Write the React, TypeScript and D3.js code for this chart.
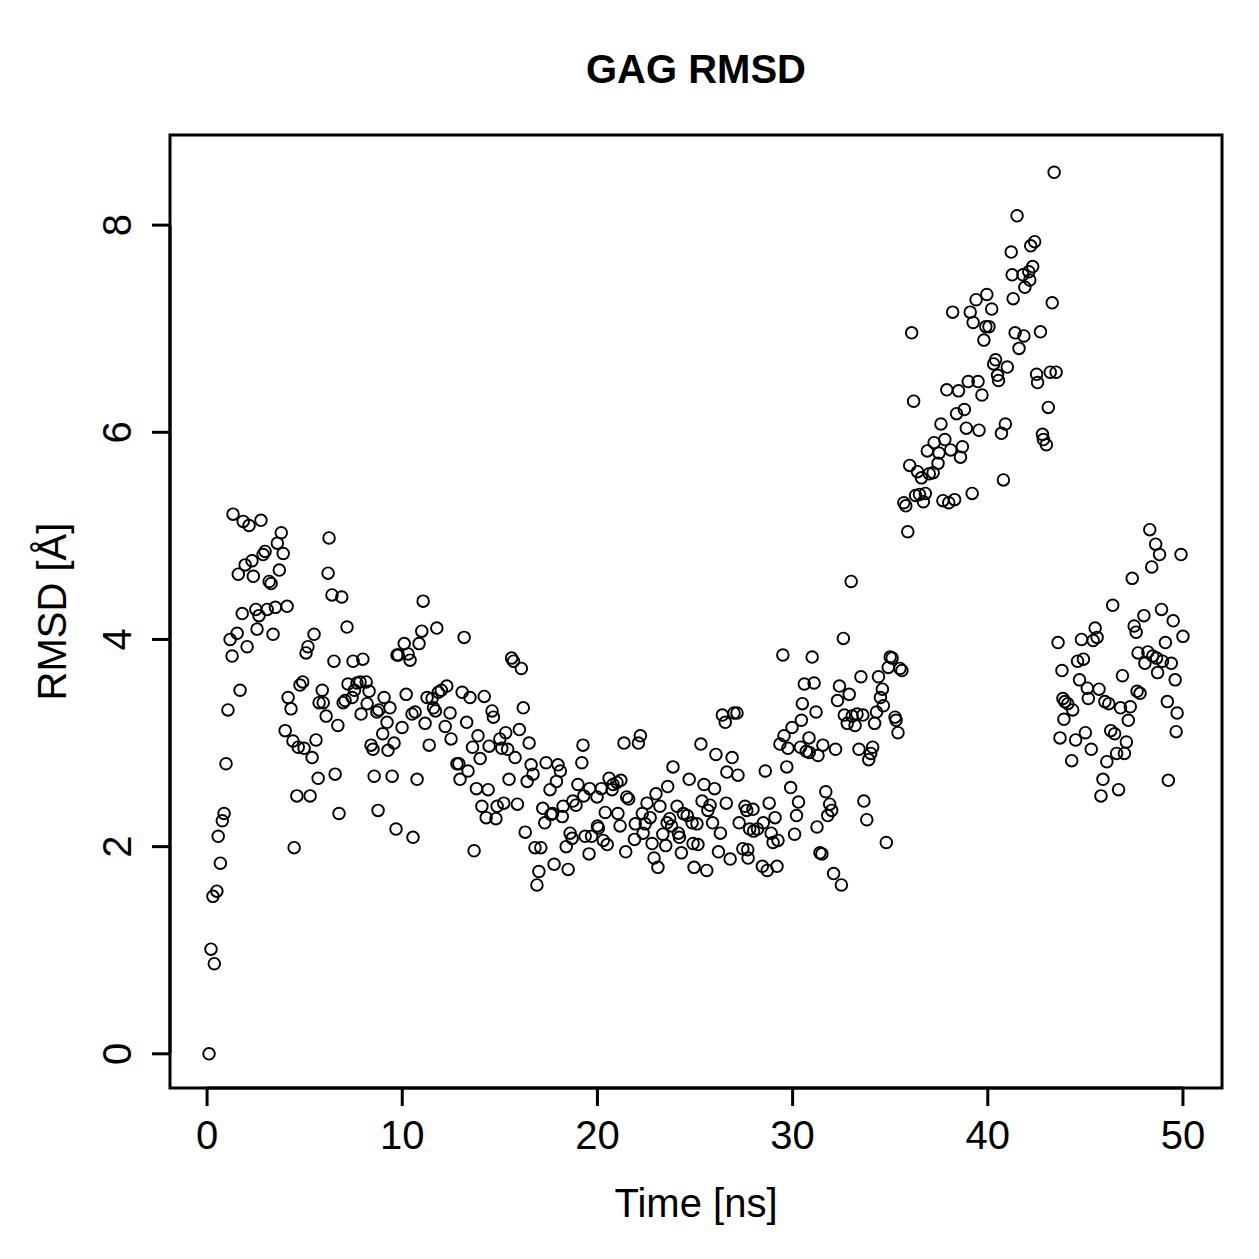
import * as d3 from 'd3'

// GAG RMSD trajectory
const timeNs: number[] = [
  0.1, 0.2, 0.3, 0.37, 0.5, 0.57, 0.68, 0.78, 0.87, 0.97, 1.07, 1.18, 1.28, 1.33, 1.54, 1.6, 1.69, 1.8, 1.85, 1.95,
  2.05, 2.15, 2.3, 2.37, 2.5, 2.56, 2.66, 2.76, 2.87, 2.97, 3.08, 3.18, 3.28, 3.38, 3.5, 3.6, 3.7, 3.8, 3.9, 4.1,
  4.0, 4.15, 4.3, 4.4, 4.46, 4.6, 4.67, 4.76, 4.9, 4.97, 5.07, 5.17, 5.28, 5.38, 5.48, 5.58, 5.69, 5.74, 5.9, 5.95,
  6.1, 6.2, 6.25, 6.4, 6.5, 6.56, 6.7, 6.76, 6.9, 6.97, 7.07, 7.17, 7.22, 7.43, 7.48, 7.55, 7.68, 7.84, 7.89, 7.98,
  8.15, 8.2, 8.3, 8.4, 8.5, 8.56, 8.7, 8.76, 8.8, 9.0, 9.07, 9.22, 9.27, 9.37, 9.48, 9.58, 9.68, 9.73, 9.8, 9.99,
  10.1, 10.2, 10.3, 10.4, 10.5, 10.55, 10.66, 10.76, 10.86, 11.0, 11.07,
  11.17, 11.27, 11.38, 11.53, 11.6, 11.7, 11.77, 11.85, 12.0, 12.2, 12.28, 12.45, 12.5, 12.8, 12.9, 12.96, 13.07, 13.17, 13.3, 13.37,
  13.47, 13.6, 13.68, 13.8, 13.88, 13.99, 14.08, 14.2, 14.3, 14.4, 14.45, 14.6, 14.67, 14.8, 14.86, 15.0, 15.1, 15.2, 15.3, 15.4,
  15.47, 15.6, 15.7, 15.78, 15.9, 16.0, 16.1, 16.2, 16.3, 16.4, 16.5, 16.6, 16.7, 16.8, 16.9, 17.0, 17.1, 17.2, 17.3, 17.37,
  17.57, 17.62, 17.7, 17.78, 17.9, 17.98, 18.1, 18.2, 18.24, 18.4, 18.5, 18.6, 18.7, 18.74, 18.9, 19.0, 19.2, 19.26, 19.3, 19.37,
  19.57, 19.6, 19.7, 19.98, 20.0, 20.05, 20.2, 20.3, 20.4, 20.5, 20.6, 20.75, 20.8, 21.0, 21.05, 21.16,
  21.2, 21.36, 21.45, 21.5, 21.6, 21.9, 21.94, 22.1, 22.2, 22.3, 22.34, 22.45, 22.54, 22.7, 22.8, 22.9, 23.0, 23.1, 23.2, 23.35,
  23.5, 23.57, 23.6, 23.7, 23.8, 23.87, 24.08, 24.15, 24.2, 24.3, 24.4, 24.6, 24.7, 24.85, 24.9, 24.95, 25.1, 25.15, 25.3, 25.36,
  25.46, 25.6, 25.66, 25.77, 25.9, 26.0, 26.07, 26.2, 26.3, 26.4, 26.55, 26.6, 26.63, 26.8, 26.9, 27.0, 27.15, 27.2, 27.26, 27.45,
  27.56, 27.65, 27.7, 27.72, 27.8, 27.97, 28.0, 28.2, 28.45, 28.5, 28.6, 28.7, 28.8, 28.9, 29.0, 29.1, 29.2, 29.25, 29.35, 29.5,
  29.56, 29.7, 29.76, 29.9, 29.97, 30.1, 30.2, 30.3, 30.4, 30.45, 30.5, 30.6, 30.7, 30.84, 30.85, 31.0, 31.1, 31.2, 31.25, 31.3,
  31.4, 31.5, 31.55, 31.7, 31.8, 31.9, 32.0, 32.1, 32.2, 32.3, 32.4, 32.5, 32.6, 32.65, 32.8, 32.9, 33.0, 33.05, 33.2, 33.3,
  33.4, 33.5, 33.6, 33.65, 33.8, 33.9, 34.0, 34.1, 34.2, 34.3, 34.4, 34.5, 34.6, 34.65, 34.8, 34.9, 35.0, 35.1, 35.25, 35.3,
  35.4, 35.5, 35.6,
  35.7, 35.8, 35.9, 36.0, 36.1, 36.2, 36.3, 36.4, 36.5, 36.6, 36.7, 36.8, 36.9, 37.0, 37.2, 37.25, 37.45, 37.5, 37.6, 37.7,
  37.8, 37.9, 38.0, 38.1, 38.2, 38.3, 38.4, 38.5, 38.6, 38.7, 38.8, 38.9, 39.0, 39.1, 39.2, 39.25, 39.4, 39.5, 39.55, 39.7,
  39.8, 39.9, 39.95, 40.06, 40.2, 40.3, 40.4, 40.5, 40.55, 40.7, 40.8, 40.9, 41.0, 41.2, 41.25, 41.3, 41.4, 41.5, 41.6, 41.8,
  41.85, 41.9, 42.1, 42.15, 42.2, 42.3, 42.4, 42.5, 42.55, 42.7, 42.8, 42.85, 43.0, 43.1, 43.2, 43.3, 43.4, 43.5,
  43.6, 43.7, 43.8, 43.85, 43.9, 43.95, 44.1, 44.3, 44.35, 44.5, 44.6, 44.7, 44.8, 44.9, 45.0, 45.1, 45.15, 45.3, 45.4, 45.5,
  45.6, 45.7, 45.8, 45.9, 46.0, 46.1, 46.2, 46.3, 46.4, 46.5, 46.6, 46.7, 46.8, 46.9, 47.0, 47.1, 47.2, 47.3, 47.4, 47.5,
  47.6, 47.65, 47.7, 47.8, 48.0, 48.05, 48.2, 48.3, 48.4, 48.45, 48.6, 48.65, 48.7, 48.8, 48.9, 48.95, 49.1, 49.2, 49.25, 49.4,
  49.5, 49.6, 49.65, 49.7, 49.9, 50.0,
]

const rmsd: number[] = [
  0, 1.01, 1.52, 0.87, 1.57, 2.1, 1.84, 2.25, 2.32, 2.8, 3.32, 4.0, 3.84, 5.21, 4.06, 4.63, 3.51, 4.25, 5.14, 4.72,
  3.93, 5.1, 4.76, 4.61, 4.29, 4.1, 4.23, 5.15, 4.82, 4.85, 4.29, 4.56, 4.54, 4.05, 4.31, 4.93, 4.67, 5.03, 4.83, 4.32,
  3.12, 3.44, 3.33, 3.02, 1.99, 2.49, 2.96, 3.56, 3.59, 2.95, 3.87, 3.93, 2.49, 2.86, 4.05, 3.03, 2.66, 3.39, 3.51, 3.39,
  3.26, 4.64, 4.98, 4.43, 3.79, 2.7, 3.17, 2.32, 4.41, 3.39, 3.41, 4.12, 3.57, 3.44, 3.79, 3.51, 3.58, 3.59, 3.28, 3.81,
  3.59, 3.38, 3.5, 2.98, 2.94, 2.68, 3.3, 2.35, 3.32, 3.09, 3.44, 3.2, 2.93, 3.34, 2.68, 3.0, 2.17, 3.85, 3.85, 3.15,
  3.96, 3.47, 3.86, 3.8, 3.28, 2.09, 3.3, 2.65, 3.96, 4.08, 4.37,
  3.19, 3.44, 2.98, 3.43, 3.34, 3.31, 4.11, 3.49, 3.51, 3.16, 3.55, 3.29, 3.04, 2.8, 2.8, 2.65, 3.49, 4.02, 3.2, 2.73,
  3.44, 2.96, 1.96, 2.56, 3.07, 2.85, 2.39, 3.45, 2.28, 2.55, 2.97, 3.31, 3.25, 2.27, 2.39, 3.04, 2.95, 2.42, 3.1, 2.94,
  2.65, 3.82, 3.79, 2.86, 2.41, 3.13, 3.72, 3.34, 2.14, 2.63, 3.0, 2.79, 2.7, 1.99, 1.63, 1.76, 1.99, 2.37, 2.23, 2.81,
  2.55, 2.31, 2.32, 1.83, 2.63, 2.79, 2.73, 2.29, 2.39, 2.0, 1.78, 2.13, 2.08, 2.44, 2.4, 2.6, 2.81, 2.98, 2.49, 2.1,
  1.93, 2.56, 2.1, 2.48, 2.2, 2.18, 2.56, 2.06, 2.33, 2.02, 2.66, 2.55, 2.6, 2.62, 2.32, 2.2,
  2.64, 3.0, 1.95, 2.48, 2.46, 2.07, 2.22, 3.0, 3.07, 2.32, 2.13, 2.22, 2.42, 2.28, 2.03, 1.89, 2.51, 1.8, 2.39, 2.12,
  2.01, 2.23, 2.58, 2.27, 2.2, 2.77, 2.39, 2.13, 2.09, 1.94, 2.32, 2.3, 2.65, 2.23, 2.03, 1.8, 2.22, 2.02, 2.99, 2.44,
  2.6, 1.77, 2.35, 2.4, 2.23, 2.56, 2.89, 1.95, 2.13, 3.27, 3.2, 2.42, 2.72, 1.88, 2.86, 3.29, 3.29, 2.69, 2.23, 1.98,
  2.39, 2.35, 1.97, 1.89, 2.17, 2.36, 2.15, 2.17, 1.81, 2.23, 2.73, 1.77, 2.42, 2.13, 2.04, 2.28, 1.81, 2.06, 2.99, 3.85,
  3.07, 2.77, 2.95, 2.57, 3.15, 2.12, 2.3, 2.43, 2.96, 3.22, 3.38, 3.57, 2.92, 3.05, 2.91, 3.83, 3.58, 3.3, 2.19, 2.88,
  1.94, 1.93, 2.98, 2.53, 2.3, 2.41, 2.35, 1.74, 2.94, 3.41, 3.55, 1.63, 4.01, 3.27, 3.19, 3.47, 4.56, 3.26, 3.17, 3.28,
  2.94, 3.64, 3.27, 2.44, 2.26, 2.84, 2.9, 2.96, 3.19, 3.3, 3.64, 3.44, 3.52, 3.36, 2.04, 3.73, 3.83, 3.82, 3.25, 3.22,
  3.1, 3.72, 3.7,
  5.32, 5.29, 5.04, 5.68, 6.96, 6.3, 5.39, 5.62, 5.4, 5.56, 5.33, 5.41, 5.82, 5.6, 5.61, 5.9, 5.7, 5.8, 6.08, 5.34,
  5.93, 6.41, 5.32, 5.83, 7.16, 5.35, 6.18, 6.4, 5.76, 5.86, 6.22, 6.04, 6.49, 7.16, 5.41, 7.06, 7.28, 6.49, 6.02, 6.36,
  6.89, 7.02, 7.33, 7.02, 7.19, 6.66, 6.7, 6.55, 6.5, 5.99, 5.54, 6.08, 6.63, 7.74, 7.52, 7.29, 6.96, 8.09, 6.81, 7.52,
  6.93, 7.4, 7.55, 7.47, 7.8, 7.6, 7.84, 6.56, 6.48, 6.97, 5.98, 5.93, 5.88, 6.24, 6.58, 7.25, 8.51, 6.58,
  3.97, 3.05, 3.7, 3.43, 3.23, 3.4, 3.38, 2.83, 3.32, 3.03, 3.79, 3.61, 4.0, 3.81, 3.1, 3.53, 3.43, 2.94, 3.99, 4.11,
  4.02, 3.52, 2.49, 2.65, 3.4, 2.82, 3.38, 3.12, 4.33, 3.09, 2.9, 2.55, 3.34, 3.65, 2.9, 3.01, 3.22, 3.35, 4.59, 4.13,
  4.07, 3.5, 3.87, 3.48, 4.23, 3.77, 3.88, 5.06, 4.7, 3.84, 4.92, 3.82, 3.68, 4.82, 4.29, 3.79, 3.97, 3.4, 2.64, 3.77,
  4.18, 3.61, 3.11, 3.29, 4.82, 4.03,
]

const xTicks = [0, 10, 20, 30, 40, 50]
const yTicks = [0, 2, 4, 6, 8]

const W = 1259
const H = 1259
const left = 170
const right = 1222
const top = 135
const bottom = 1088

const font = 'Liberation Sans, Arial, Helvetica, sans-serif'

export default function App() {
  const x = d3.scaleLinear().domain([-1.9, 52.0]).range([left, right])
  const y = d3.scaleLinear().domain([-0.33, 8.87]).range([bottom, top])
  const points = d3.zip(timeNs, rmsd)

  return (
    <svg width={W} height={H} style={{ position: 'absolute', left: 0, top: 0, background: '#fff' }}>
      <rect x={0} y={0} width={W} height={H} fill="#fff" />
      <text x={(left + right) / 2} y={83} textAnchor="middle" fontFamily={font} fontWeight="bold" fontSize={40}>
        GAG RMSD
      </text>

      {/* points */}
      <g fill="none" stroke="#000" strokeWidth={1.9}>
        {points.map(([t, v], i) => (
          <circle key={i} cx={x(t)} cy={y(v)} r={5.8} />
        ))}
      </g>

      {/* plot box */}
      <rect x={left} y={top} width={right - left} height={bottom - top} fill="none" stroke="#000" strokeWidth={3} />

      {/* x axis */}
      <g stroke="#000" strokeWidth={3}>
        <line x1={x(xTicks[0])} x2={x(xTicks[xTicks.length - 1])} y1={bottom} y2={bottom} />
        {xTicks.map((t) => (
          <line key={t} x1={x(t)} x2={x(t)} y1={bottom} y2={bottom + 18} />
        ))}
      </g>
      {xTicks.map((t) => (
        <text key={t} x={x(t)} y={1149} textAnchor="middle" fontFamily={font} fontSize={40}>
          {t}
        </text>
      ))}
      <text x={(left + right) / 2} y={1217} textAnchor="middle" fontFamily={font} fontSize={40}>
        Time [ns]
      </text>

      {/* y axis */}
      <g stroke="#000" strokeWidth={3}>
        <line x1={left} x2={left} y1={y(yTicks[0])} y2={y(yTicks[yTicks.length - 1])} />
        {yTicks.map((v) => (
          <line key={v} x1={left} x2={left - 18} y1={y(v)} y2={y(v)} />
        ))}
      </g>
      {yTicks.map((v) => (
        <text
          key={v}
          transform={`translate(131,${y(v)}) rotate(-90)`}
          textAnchor="middle"
          fontFamily={font}
          fontSize={40}
        >
          {v}
        </text>
      ))}
      <text
        transform={`translate(66,${(top + bottom) / 2}) rotate(-90)`}
        textAnchor="middle"
        fontFamily={font}
        fontSize={40}
      >
        RMSD [Å]
      </text>
    </svg>
  )
}
